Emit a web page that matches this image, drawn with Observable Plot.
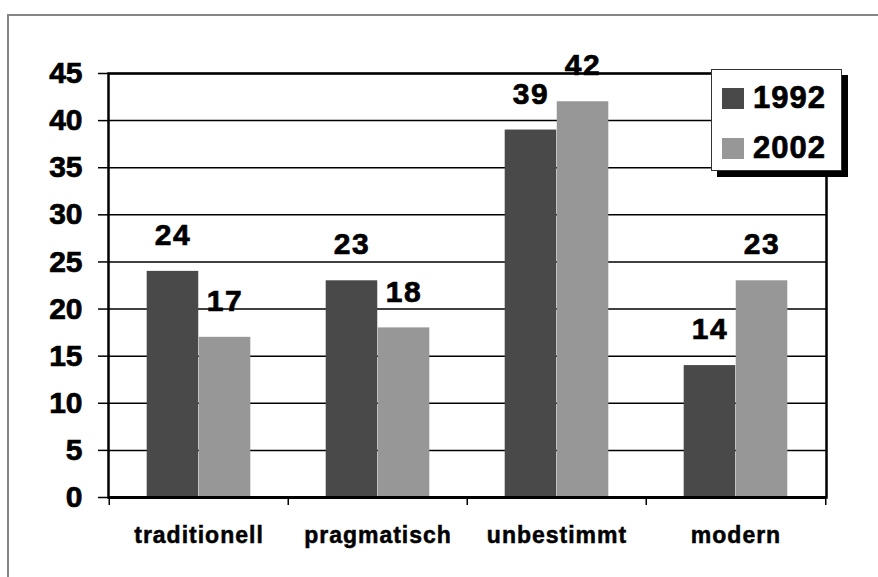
<!DOCTYPE html>
<html><head><meta charset="utf-8">
<script src="https://cdn.jsdelivr.net/npm/d3@7"></script>
<script src="https://cdn.jsdelivr.net/npm/@observablehq/plot@0.6"></script>
<style>
html,body{margin:0;padding:0;background:#fff;overflow:hidden;}
#wrap{position:relative;width:878px;height:577px;font-family:"Liberation Sans",Arial,sans-serif;overflow:hidden;}
#border{position:absolute;left:7px;top:14px;width:1000px;height:1000px;border:2px solid #858585;box-sizing:border-box;}
#chart{position:absolute;left:0;top:0;}
#legend{position:absolute;left:711px;top:69px;width:131px;height:102px;box-sizing:border-box;background:#fff;border:1px solid #333;box-shadow:6px 6px 0 #000;}
.lg-item{position:absolute;left:10px;height:24px;display:flex;align-items:center;}
.lg-sw{width:22px;height:21px;margin-right:9px;}
.lg-tx{font-weight:bold;font-size:31px;letter-spacing:1px;color:#000;line-height:24px;-webkit-text-stroke:0.7px #000;}
svg text{stroke:#000;stroke-width:0.7px;paint-order:normal;}
svg g[aria-label="x-axis tick label"] text{letter-spacing:1px;stroke-width:0.5px;}
svg g[aria-label="text"] text{letter-spacing:1.5px;}
</style></head><body>
<div id="wrap"><div id="border"></div><div id="chart"></div><div id="legend"></div></div>
<script>
const categories = ["traditionell", "pragmatisch", "unbestimmt", "modern"];
const series = ["1992", "2002"];
const values1992 = [24, 23, 39, 14];
const values2002 = [17, 18, 42, 23];
const yTicks = [0, 5, 10, 15, 20, 25, 30, 35, 40, 45];
const seriesColors = ["#494949", "#979797"];

const W = 878, H = 577, mL = 108, mR = 52, mT = 73, mB = 80;
const bw = (W - mL - mR) / categories.length;

const d1992 = categories.map((c, i) => ({cat: c, year: series[0], value: values1992[i]}));
const d2002 = categories.map((c, i) => ({cat: c, year: series[1], value: values2002[i]}));

const plot = Plot.plot({
  width: W, height: H,
  marginLeft: mL, marginRight: mR, marginTop: mT, marginBottom: mB,
  style: {fontFamily: '"Liberation Sans", Arial, sans-serif', color: "#000", background: "transparent", overflow: "visible"},
  x: {type: "band", domain: categories, padding: 0},
  y: {domain: [0, 45]},
  marks: [
    Plot.gridY(yTicks, {stroke: "#000", strokeOpacity: 1, strokeWidth: 1.5}),
    Plot.barY(d1992, {x: "cat", y: "value", fill: seriesColors[0], insetLeft: 0.21 * bw, insetRight: 0.5 * bw}),
    Plot.barY(d2002, {x: "cat", y: "value", fill: seriesColors[1], insetLeft: 0.5 * bw, insetRight: 0.21 * bw}),
    Plot.frame({stroke: "#000", strokeWidth: 2.5}),
    Plot.ruleY([0], {stroke: "#000", strokeWidth: 3}),
    Plot.axisY(yTicks, {tickSize: 10, tickPadding: 16, fontSize: 30, fontWeight: "bold", strokeWidth: 1.5, tickFormat: d => String(d), label: null}),
    Plot.axisX({tickSize: 8, text: null, dx: -bw / 2, strokeWidth: 1.5, label: null}),
    Plot.axisX([categories[categories.length - 1]], {tickSize: 8, text: null, dx: bw / 2, strokeWidth: 1.5, label: null}),
    Plot.axisX({tickSize: 0, tickPadding: 29, fontSize: 23, fontWeight: "bold", label: null}),
    Plot.text(d1992, {x: "cat", y: "value", text: d => String(d.value), dx: -0.145 * bw, dy: -36, fontSize: 30, fontWeight: "bold", fill: "#000"}),
    Plot.text(d2002, {x: "cat", y: "value", text: d => String(d.value), dx: 0.145 * bw, dy: -36, fontSize: 30, fontWeight: "bold", fill: "#000"})
  ]
});
document.getElementById("chart").appendChild(plot);

const lg = document.getElementById("legend");
series.forEach((s, i) => {
  const item = document.createElement("div");
  item.className = "lg-item";
  item.style.top = (16 + i * 50) + "px";
  const sw = document.createElement("div");
  sw.className = "lg-sw";
  sw.style.background = seriesColors[i];
  const tx = document.createElement("span");
  tx.className = "lg-tx";
  tx.textContent = s;
  item.appendChild(sw); item.appendChild(tx);
  lg.appendChild(item);
});
</script>
</body></html>
